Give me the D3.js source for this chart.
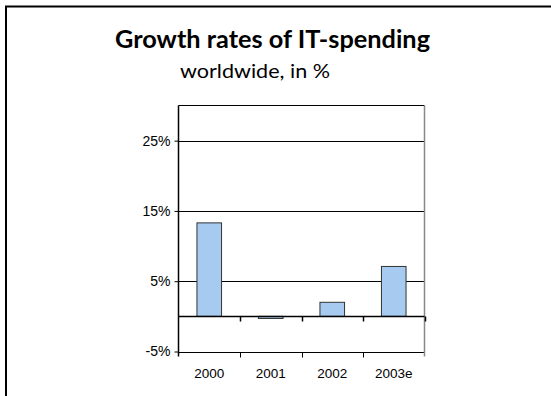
<!DOCTYPE html>
<html>
<head>
<meta charset="utf-8">
<script src="https://cdn.jsdelivr.net/npm/d3@7"></script>
<style>
  html, body { margin: 0; padding: 0; background: #fff; }
  svg { display: block; }
</style>
</head>
<body>
<script>
// Chart data
const categories = ["2000", "2001", "2002", "2003e"];
const growth = [13.3, -0.3, 2.0, 7.1];
const yTicks = [-5, 5, 15, 25];
const yTickLabels = ["-5%", "5%", "15%", "25%"];
const titleText = "Growth rates of IT-spending";
const subtitleText = "worldwide, in %";

const W = 551, H = 396;
const plot = { left: 178.5, right: 424.5, top: 105.5, bottom: 351.5 };

const svg = d3.select("body").append("svg")
  .attr("width", W).attr("height", H);

// Frame: left and top edges
svg.append("path")
  .attr("d", `M6,${H} V6.5 H${W}`)
  .attr("fill", "none").attr("stroke", "#000").attr("stroke-width", 2);

const title = svg.append("text")
  .attr("x", 272.5).attr("y", 48)
  .attr("text-anchor", "middle")
  .attr("font-family", "Lato, 'Open Sans', sans-serif")
  .attr("font-weight", "bold").attr("font-size", 25)
  .text(titleText);

const sub = svg.append("text")
  .attr("x", 255).attr("y", 77.5)
  .attr("text-anchor", "middle")
  .attr("font-family", "Lato, 'Open Sans', sans-serif")
  .attr("font-size", 19)
  .text(subtitleText);

// Fit heading widths to their measured extents
title.attr("textLength", 315).attr("lengthAdjust", "spacingAndGlyphs");
sub.attr("textLength", 150).attr("lengthAdjust", "spacingAndGlyphs");

const x = d3.scaleBand().domain(categories)
  .range([plot.left, plot.right]).paddingInner(0.6).paddingOuter(0.3);
const xEdge = d3.scaleLinear().domain([0, categories.length])
  .range([plot.left, plot.right]);
const y = d3.scaleLinear().domain([-5, 30]).range([plot.bottom, plot.top]);

const g = svg.append("g");

// Horizontal gridlines
g.selectAll("line.grid").data(yTicks).join("line")
  .attr("class", "grid")
  .attr("x1", plot.left).attr("x2", plot.right)
  .attr("y1", d => Math.round(y(d)) + 0.5).attr("y2", d => Math.round(y(d)) + 0.5)
  .attr("stroke", "#000").attr("stroke-width", 1);

// Plot box top and right edges
g.append("line")
  .attr("x1", plot.left).attr("x2", plot.right)
  .attr("y1", plot.top).attr("y2", plot.top)
  .attr("stroke", "#000");
g.append("line")
  .attr("x1", plot.right).attr("x2", plot.right)
  .attr("y1", plot.top).attr("y2", plot.bottom + 5)
  .attr("stroke", "#888").attr("stroke-width", 1.5);

// Bars
g.selectAll("rect.bar").data(growth).join("rect")
  .attr("class", "bar")
  .attr("x", (d, i) => x(categories[i]))
  .attr("width", x.bandwidth())
  .attr("y", d => y(Math.max(0, d)))
  .attr("height", d => Math.abs(y(d) - y(0)))
  .attr("fill", "#a6caf0")
  .attr("stroke", "#333").attr("stroke-width", 1);

// Category axis on the zero line
const zeroY = Math.round(y(0)) + 0.5;
g.append("line")
  .attr("x1", plot.left).attr("x2", plot.right)
  .attr("y1", zeroY).attr("y2", zeroY)
  .attr("stroke", "#000").attr("stroke-width", 1.5);
const edges = d3.range(1, categories.length + 1);
g.selectAll("line.xtick0").data(edges).join("line")
  .attr("class", "xtick0")
  .attr("x1", d => Math.round(xEdge(d)) + 0.5).attr("x2", d => Math.round(xEdge(d)) + 0.5)
  .attr("y1", zeroY).attr("y2", zeroY + 5)
  .attr("stroke", "#000").attr("stroke-width", 1.5);
const botY = Math.round(y(-5)) + 0.5;
g.selectAll("line.xtick1").data(edges.slice(0, -1)).join("line")
  .attr("class", "xtick1")
  .attr("x1", d => Math.round(xEdge(d)) + 0.5).attr("x2", d => Math.round(xEdge(d)) + 0.5)
  .attr("y1", botY).attr("y2", botY + 5)
  .attr("stroke", "#000");

// Value axis
const yAxis = d3.axisLeft(y).tickValues(yTicks)
  .tickFormat((d, i) => yTickLabels[i]).tickSize(4).tickPadding(4);
const ya = svg.append("g").attr("transform", `translate(${plot.left},0)`).call(yAxis);
ya.select(".domain").remove();
ya.append("line").attr("x1", 0).attr("x2", 0)
  .attr("y1", plot.top).attr("y2", plot.bottom + 5)
  .attr("stroke", "#000").attr("stroke-width", 1.5);
ya.selectAll(".tick line").attr("stroke", "#000");
ya.selectAll(".tick text")
  .attr("font-family", "'Liberation Sans', Arial, sans-serif")
  .attr("font-size", 14).attr("fill", "#000");

// Category labels
svg.selectAll("text.cat").data(categories).join("text")
  .attr("class", "cat")
  .attr("x", d => x(d) + x.bandwidth() / 2)
  .attr("y", 378)
  .attr("text-anchor", "middle")
  .attr("font-family", "'Liberation Sans', Arial, sans-serif")
  .attr("font-size", 13.5)
  .text(d => d);
</script>
</body>
</html>
